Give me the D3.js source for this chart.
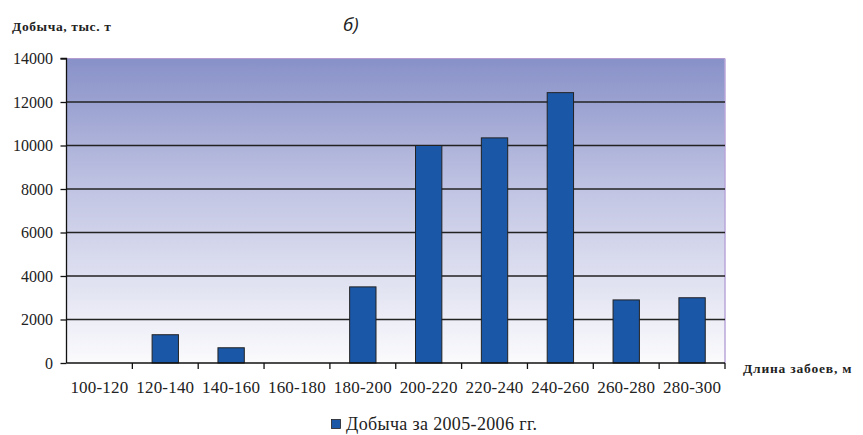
<!DOCTYPE html>
<html><head><meta charset="utf-8">
<script src="https://cdn.jsdelivr.net/npm/d3@7"></script>
<style>body{margin:0;background:#fff;}svg{display:block;}</style>
</head><body>
<svg id="c" width="863" height="435"></svg>
<script>
const categories = ["100-120","120-140","140-160","160-180","180-200","200-220","220-240","240-260","260-280","280-300"];
const values = [0, 1300, 700, 0, 3500, 10000, 10350, 12430, 2900, 3000];
const yTicks = [0, 2000, 4000, 6000, 8000, 10000, 12000, 14000];
const seriesName = "Добыча за 2005-2006 гг.";
const yTitle = "Добыча, тыс. т";
const xTitle = "Длина забоев, м";
const panelLabel = "б)";

const SERIF = "'Liberation Serif', 'Tinos', 'Times New Roman'";
const svg = d3.select("#c");
const L = 66.5, R = 725, T = 58.5, B = 363;
const x = d3.scaleBand().domain(categories).range([L, R]).padding(0);
const y = d3.scaleLinear().domain([0, 14000]).range([B, T]);

const defs = svg.append("defs");
const g = defs.append("linearGradient").attr("id","bg").attr("x1",0).attr("y1",0).attr("x2",0).attr("y2",1);
g.append("stop").attr("offset","0%").attr("stop-color","#8891c8");
g.append("stop").attr("offset","45%").attr("stop-color","#c3c6e4");
g.append("stop").attr("offset","100%").attr("stop-color","#fbfbfd");

svg.append("rect").attr("x",L).attr("y",T).attr("width",R-L).attr("height",B-T).attr("fill","url(#bg)");
svg.append("line").attr("x1",L).attr("x2",R).attr("y1",T).attr("y2",T).attr("stroke","#b39ccf").attr("stroke-width",1);
svg.append("line").attr("x1",R).attr("x2",R).attr("y1",T).attr("y2",B).attr("stroke","#b8a6d8").attr("stroke-width",1.5);

// gridlines
svg.append("g").selectAll("line").data(yTicks.filter(d=>d>0 && d<14000)).join("line")
  .attr("x1",L).attr("x2",R).attr("y1",d=>y(d)).attr("y2",d=>y(d))
  .attr("stroke","#222").attr("stroke-width",1.3);

// bars
const bw = x.bandwidth()*0.4;
svg.append("g").selectAll("rect").data(categories.map((c,i)=>({c,v:values[i]})).filter(d=>d.v>0)).join("rect")
  .attr("x",d=>x(d.c)+x.bandwidth()/2-bw/2).attr("width",bw)
  .attr("y",d=>y(d.v)).attr("height",d=>y(0)-y(d.v))
  .attr("fill","#1b57a7").attr("stroke","#222").attr("stroke-width",1);

// y axis
const ya = d3.axisLeft(y).tickValues(yTicks).tickSize(6).tickPadding(7.5).tickFormat(d3.format("d"));
const yg = svg.append("g").attr("transform",`translate(${L},0)`).call(ya);
yg.select(".domain").attr("stroke","#111").attr("stroke-width",1.3).attr("d",`M-6,${T}H0V${B}`);
yg.selectAll(".tick line").attr("stroke","#111").attr("stroke-width",1.3);
yg.selectAll("text").style("font-family",SERIF).style("font-size","16px").attr("fill","#222");

// x axis
const xa = d3.axisBottom(x).tickSize(0).tickPadding(18);
const xg = svg.append("g").attr("transform",`translate(0,${B})`).call(xa);
xg.select(".domain").attr("stroke","#111").attr("stroke-width",1.5).attr("d",`M${L},0H${R}`);
xg.selectAll("text").style("font-family",SERIF).style("font-size","17px").style("letter-spacing","0.2px").attr("fill","#222");
svg.append("g").selectAll("line").data(categories.slice(1).concat(["__end"])).join("line")
  .attr("x1",(d,i)=> i<categories.length-1 ? x(d) : R).attr("x2",(d,i)=> i<categories.length-1 ? x(d) : R)
  .attr("y1",B).attr("y2",B+6).attr("stroke","#111").attr("stroke-width",1.3);

// titles
svg.append("text").attr("x",12).attr("y",30.5).text(yTitle)
  .style("font-family",SERIF).style("font-weight","bold").style("font-size","13.5px").style("letter-spacing","0.6px").attr("fill","#222");
svg.append("text").attr("x",343).attr("y",31).text(panelLabel)
  .style("font-family","'Open Sans'").style("font-style","italic").style("font-size","19px").attr("fill","#222");
svg.append("text").attr("x",743).attr("y",373).text(xTitle)
  .style("font-family",SERIF).style("font-weight","bold").style("font-size","13.5px").style("letter-spacing","0.8px").attr("fill","#222");

// legend
svg.append("rect").attr("x",331.5).attr("y",419.5).attr("width",9).attr("height",9).attr("fill","#1b57a7").attr("stroke","#222").attr("stroke-width",0.8);
svg.append("text").attr("x",346).attr("y",430).text(seriesName)
  .style("font-family",SERIF).style("font-size","18px").style("letter-spacing","0.35px").attr("fill","#222");
</script>
</body></html>
